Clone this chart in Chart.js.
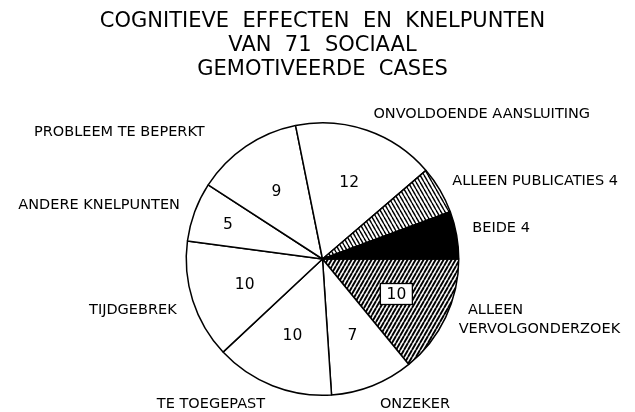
<!DOCTYPE html>
<html>
<head>
<meta charset="utf-8">
<script src="https://cdn.jsdelivr.net/npm/chart.js@4.4.1/dist/chart.umd.min.js"></script>
<style>
  html, body { margin: 0; padding: 0; background: #fff; }
</style>
</head>
<body>
<canvas id="myChart" width="635" height="412"></canvas>
<script>
// data, clockwise from 3 o'clock
const titleLines = ['COGNITIEVE  EFFECTEN  EN  KNELPUNTEN', 'VAN  71  SOCIAAL', 'GEMOTIVEERDE  CASES'];
const categories = [['  ALLEEN', 'VERVOLGONDERZOEK'], 'ONZEKER', 'TE TOEGEPAST', 'TIJDGEBREK', 'ANDERE KNELPUNTEN',
    'PROBLEEM TE BEPERKT', 'ONVOLDOENDE AANSLUITING', 'ALLEEN PUBLICATIES', 'BEIDE'];
const counts = [10, 7, 10, 10, 5, 9, 12, 4, 4];
const countInside = [true, true, true, true, true, true, true, false, false];

// hatch tiles
function hatch(dir, lw) {
    const c = document.createElement('canvas');
    c.width = 4; c.height = 7;
    const g = c.getContext('2d');
    g.fillStyle = '#fff';
    g.fillRect(0, 0, 4, 7);
    g.strokeStyle = '#000';
    g.lineWidth = lw;
    for (let k = -1; k <= 1; k++) {
        g.beginPath();
        if (dir > 0) { g.moveTo(k * 4, 7); g.lineTo(k * 4 + 4, 0); }   // "/"
        else { g.moveTo(k * 4, 0); g.lineTo(k * 4 + 4, 7); }           // "\"
        g.stroke();
    }
    return g.createPattern(c, 'repeat');
}

const fills = [hatch(1, 1.9), '#fff', '#fff', '#fff', '#fff', '#fff', '#fff', hatch(-1, 1.4), '#000'];

// small shifts for outside labels (px)
const nudge = [[-5, -6], [0, 0], [0, 0], [3, 4], [4, 0], [-30, 2], [0, 3], [-5, 1], [-4, -3]];

const labelPlugin = {
    id: 'pieLabels',
    afterDraw(chart) {
        const ctx = chart.ctx;
        const arcs = chart.getDatasetMeta(0).data;
        const first = arcs[0].getProps(['x', 'y', 'outerRadius'], true);
        const cx = first.x, cy = first.y, R = first.outerRadius;
        ctx.save();
        ctx.fillStyle = '#000';
        ctx.textBaseline = 'middle';

        // title
        ctx.textAlign = 'center';
        ctx.font = '21px "DejaVu Sans"';
        titleLines.forEach((t, i) => ctx.fillText(t, cx, 22 + i * 24));

        arcs.forEach((arc, i) => {
            const p = arc.getProps(['startAngle', 'endAngle'], true);
            const mid = (p.startAngle + p.endAngle) / 2;
            const cos = Math.cos(mid), sin = Math.sin(mid);

            // outside name
            let txt = categories[i];
            let lines = Array.isArray(txt) ? txt.slice() : [txt];
            if (!countInside[i]) lines[lines.length - 1] += ' ' + counts[i];
            const ox = cx + (R + 20) * cos + nudge[i][0];
            const oy = cy + (R + 20) * sin + nudge[i][1];
            ctx.font = '14.5px "DejaVu Sans"';
            ctx.textAlign = cos >= 0 ? 'left' : 'right';
            lines.forEach((l, j) => ctx.fillText(l, ox, oy + (j - (lines.length - 1) / 2) * 19));

            // count inside
            if (countInside[i]) {
                const rf = counts[i] <= 5 ? 0.74 : 0.6;
                const ix = cx + R * rf * cos, iy = cy + R * rf * sin;
                ctx.font = '15.5px "DejaVu Sans"';
                ctx.textAlign = 'center';
                if (fills[i] !== '#fff') {
                    ctx.fillStyle = '#fff';
                    ctx.fillRect(ix - 16, iy - 10.5, 32, 21);
                    ctx.strokeStyle = '#000';
                    ctx.lineWidth = 1.3;
                    ctx.strokeRect(ix - 16, iy - 10.5, 32, 21);
                    ctx.fillStyle = '#000';
                }
                ctx.fillText(String(counts[i]), ix, iy + 1);
            }
        });
        ctx.restore();
    }
};

const ctx = document.getElementById('myChart');
new Chart(ctx, {
    type: 'pie',
    data: {
        labels: categories,
        datasets: [{
            data: counts,
            backgroundColor: fills,
            borderColor: '#000',
            borderWidth: 1.5
        }]
    },
    options: {
        responsive: false,
        animation: false,
        rotation: 90,
        layout: { padding: { top: 122, bottom: 16, left: 20, right: 10 } },
        plugins: {
            legend: { display: false },
            tooltip: { enabled: false },
            title: { display: false }
        }
    },
    plugins: [labelPlugin]
});
</script>
</body>
</html>
